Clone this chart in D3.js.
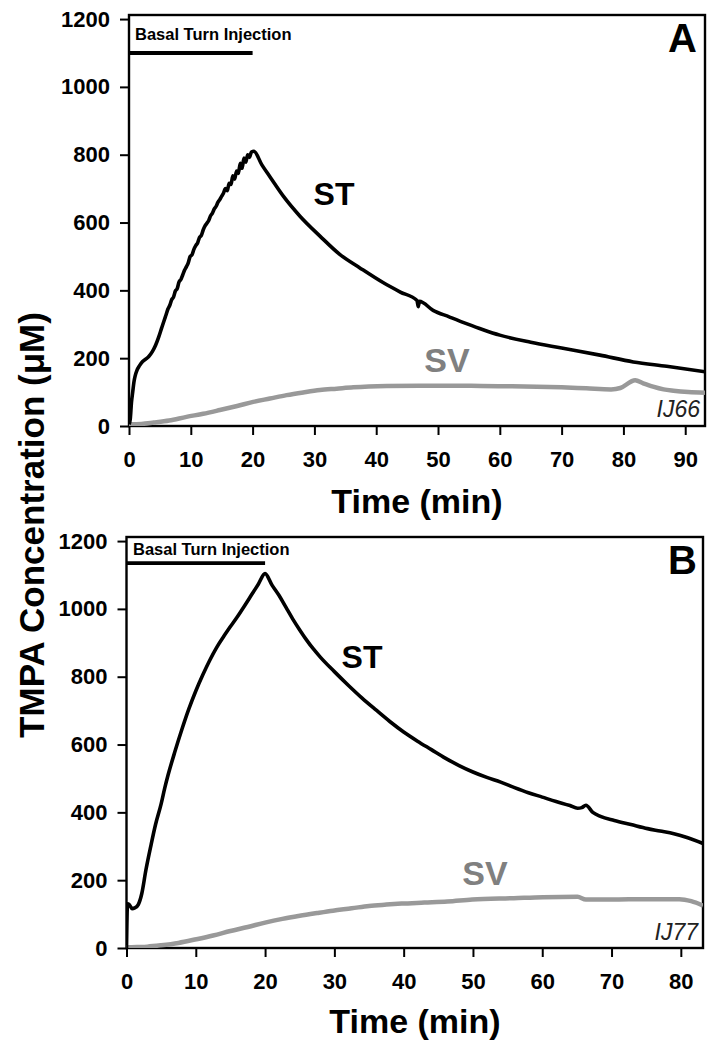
<!DOCTYPE html>
<html>
<head>
<meta charset="utf-8">
<script src="https://cdn.jsdelivr.net/npm/d3@7/dist/d3.min.js"></script>
<style>
  html, body { margin: 0; padding: 0; background: #fff; }
  svg { display: block; font-family: "Liberation Sans", Arial, Helvetica, sans-serif; }
</style>
</head>
<body>
<svg id="chart" width="715" height="1050"></svg>
<script>
// ---------- DATA ----------
const yTicks = [0, 200, 400, 600, 800, 1000, 1200];
const xTicksA = [0, 10, 20, 30, 40, 50, 60, 70, 80, 90];
const xTicksB = [0, 10, 20, 30, 40, 50, 60, 70, 80];

// Panel A (IJ66) — [time (min), TMPA (µM)]
const stA = [[0,5],[0.2,20],[0.4,70],[0.6,100],[0.8,130],[1.0,148],[1.3,165],[1.7,178],[2.2,190],[2.7,197],[3.2,205],[3.8,220],[4.3,238],[4.8,262],[5.3,290],
  [5.7,312],[6.0,328],[6.3,345],[6.6,356],[6.9,372],[7.2,380],[7.5,398],[7.8,405],[8.1,425],[8.4,432],[8.7,446],[9.0,460],[9.3,470],[9.6,482],[9.9,500],[10.2,505],[10.5,521],[10.8,532],[11.1,540],[11.4,556],[11.7,562],[12.0,578],[12.3,590],[12.6,598],[12.9,606],[13.2,620],[13.5,628],[13.8,640],[14.1,648],[14.4,660],[14.7,668],[15.0,678],[15.3,687],[15.6,700],[15.9,694],[16.2,716],[16.5,712],[16.8,738],[17.1,728],[17.4,752],[17.7,745],[18.0,775],[18.3,760],[18.6,790],[18.9,778],[19.2,800],[19.5,792],[19.8,808],[20.2,810],
  [21.5,770],[22.8,735],[25,677],[27.7,618],[30.9,560],[34.1,506],[37.3,467],[41.1,423],[43.9,395],[46.6,370],[46.8,352],[47.0,368],[49.2,341],[51.8,322],[54.6,302],[57.3,284],[60,268],[65,247],[70,230],[76.2,209],[81.6,189],[87,176],[93.2,160]];
const svA = [[0,5],[2,6],[4,10],[6.5,16],[9.3,27],[12,36],[14.7,47],[17.5,59],[20.1,71],[22.8,81],[25.5,91],[28.2,99],[30.9,106],[33.6,110],[36.3,114],[41.7,118],[47,119],[52,119],[57,118],[62,117],[66,116],[70,114],[74,111],[78,108],[79.5,112],[81.9,135],[83.2,126],[84.8,116],[86.5,108],[88.1,104],[90.5,100],[93.2,98]];

// Panel B (IJ77)
const stB = [[0,0],[0.15,130],[0.4,128],[0.8,116],[1.2,118],[1.7,128],[2.2,160],[2.8,230],[3.5,300],[4.2,365],[5,425],[5.5,470],[6,510],[7,580],[8,645],[9,705],[10,758],[11,805],[12,848],[13,886],[14,918],[15,948],[16,977],[17,1008],[18,1040],[19,1072],[20,1104],
  [21,1070],[22,1040],[23,1005],[24,970],[25,938],[26,908],[27,881],[28,857],[30,815],[32,775],[34,737],[36,702],[38,668],[40,637],[42,610],[44,585],[46,560],[48,538],[50,519],[52,503],[54,489],[56,473],[58,458],[60,445],[62,432],[64,420],[65.1,412],[65.7,414],[66.3,421],[67.3,400],[68.4,388],[70.4,376],[72.8,364],[75.2,352],[77,345],[79,337],[81,325],[83.2,308]];
const svB = [[0,2],[1.5,3],[3,4],[5,8],[7.5,15],[10.1,26],[12.5,37],[15,50],[17.5,62],[20,75],[22.5,86],[25,95],[27.5,103],[29.8,110],[32.5,117],[35,124],[37.5,128],[39.7,131],[43,134],[46.3,137],[49.9,143],[55.9,147],[60.1,150],[65.1,151],[66.3,143],[70,143],[75,144],[79.8,144],[81.5,138],[83.2,125]];

const injectionA = [0, 20, 1100];
const injectionB = [0, 20, 1135];

// ---------- DRAW ----------
const svg = d3.select("#chart");
const FONT = '"Liberation Sans", Arial, Helvetica, sans-serif';

const panels = [
  { id: "A", st: stA, sv: svA, xMax: 93.2, xTicks: xTicksA, inj: injectionA, code: "IJ66",
    left: 129, right: 705, top: 15, bottom: 426,
    stLbl: [334, 205], svLbl: [447, 372], injText: [135, 40], letter: [697, 52], code_pos: [700, 417], title: [417, 513] },
  { id: "B", st: stB, sv: svB, xMax: 83.2, xTicks: xTicksB, inj: injectionB, code: "IJ77",
    left: 126.5, right: 703, top: 537, bottom: 948,
    stLbl: [362, 668], svLbl: [485, 885], injText: [133, 555], letter: [697, 574], code_pos: [698, 940], title: [415, 1033] }
];

panels.forEach(p => {
  const x = d3.scaleLinear().domain([0, p.xMax]).range([p.left, p.right]);
  const y = d3.scaleLinear().domain([0, 1212]).range([p.bottom, p.top]);
  const g = svg.append("g");

  const clipId = "clip" + p.id;
  svg.append("clipPath").attr("id", clipId)
    .append("rect").attr("x", p.left).attr("y", p.top)
    .attr("width", p.right - p.left).attr("height", p.bottom - p.top);

  // axes
  const ya = g.append("g").attr("transform", `translate(${p.left},0)`)
    .call(d3.axisLeft(y).tickValues(yTicks).tickSize(9).tickPadding(10).tickFormat(d3.format("d")));
  ya.select(".domain").remove();
  ya.selectAll("line").attr("stroke", "#000").attr("stroke-width", 2);
  ya.selectAll("text").attr("font-family", FONT).attr("font-weight", "bold")
    .attr("font-size", 22).attr("fill", "#000");

  const xa = g.append("g").attr("transform", `translate(0,${p.bottom})`)
    .call(d3.axisBottom(x).tickValues(p.xTicks).tickSize(9).tickPadding(16).tickFormat(d3.format("d")));
  xa.select(".domain").remove();
  xa.selectAll("line").attr("stroke", "#000").attr("stroke-width", 2);
  xa.selectAll("text").attr("font-family", FONT).attr("font-weight", "bold")
    .attr("font-size", 22).attr("fill", "#000");

  // frame
  g.append("rect").attr("x", p.left).attr("y", p.top)
    .attr("width", p.right - p.left).attr("height", p.bottom - p.top)
    .attr("fill", "none").attr("stroke", "#000").attr("stroke-width", 2.4);

  const line = d3.line().x(d => x(d[0])).y(d => y(d[1])).curve(d3.curveMonotoneX);

  // SV curve
  g.append("path").datum(p.sv).attr("d", line)
    .attr("clip-path", `url(#${clipId})`)
    .attr("fill", "none").attr("stroke", "#999").attr("stroke-width", 4.5)
    .attr("stroke-linejoin", "round");

  // ST curve
  g.append("path").datum(p.st).attr("d", line)
    .attr("clip-path", `url(#${clipId})`)
    .attr("fill", "none").attr("stroke", "#000").attr("stroke-width", 3.6)
    .attr("stroke-linejoin", "round");

  // injection bar
  g.append("line").attr("x1", x(p.inj[0])).attr("x2", x(p.inj[1]))
    .attr("y1", y(p.inj[2])).attr("y2", y(p.inj[2]))
    .attr("stroke", "#000").attr("stroke-width", 3.8);
  g.append("text").attr("x", p.injText[0]).attr("y", p.injText[1])
    .attr("font-family", FONT).attr("font-weight", "bold").attr("font-size", 16.5)
    .attr("fill", "#000").text("Basal Turn Injection");

  // labels
  g.append("text").attr("x", p.letter[0]).attr("y", p.letter[1]).attr("text-anchor", "end")
    .attr("font-family", FONT).attr("font-weight", "bold").attr("font-size", 40)
    .attr("fill", "#000").text(p.id);
  g.append("text").attr("x", p.stLbl[0]).attr("y", p.stLbl[1]).attr("text-anchor", "middle")
    .attr("font-family", FONT).attr("font-weight", "bold").attr("font-size", 32)
    .attr("fill", "#000").text("ST");
  g.append("text").attr("x", p.svLbl[0]).attr("y", p.svLbl[1]).attr("text-anchor", "middle")
    .attr("font-family", FONT).attr("font-weight", "bold").attr("font-size", 34)
    .attr("fill", "#808080").text("SV");
  g.append("text").attr("x", p.code_pos[0]).attr("y", p.code_pos[1]).attr("text-anchor", "end")
    .attr("font-family", FONT).attr("font-style", "italic").attr("font-size", 23)
    .attr("fill", "#222").text(p.code);

  g.append("text").attr("x", p.title[0]).attr("y", p.title[1]).attr("text-anchor", "middle")
    .attr("font-family", FONT).attr("font-weight", "bold").attr("font-size", 34)
    .attr("fill", "#000").text("Time (min)");
});

// shared y-axis title
svg.append("text")
  .attr("transform", "translate(44,525) rotate(-90)")
  .attr("text-anchor", "middle")
  .attr("font-family", FONT).attr("font-weight", "bold").attr("font-size", 35)
  .attr("fill", "#000")
  .text("TMPA Concentration (μM)");
</script>
</body>
</html>
